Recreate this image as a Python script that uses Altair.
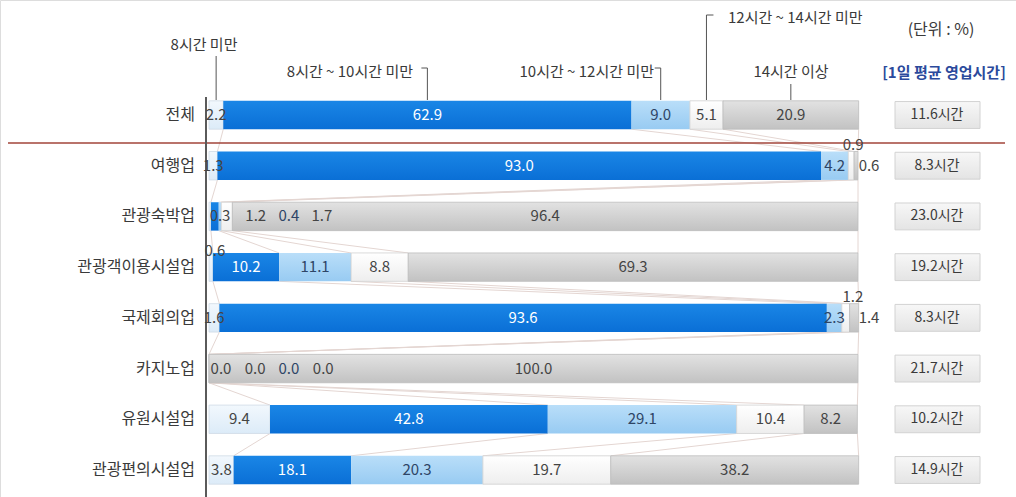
import altair as alt
import pandas as pd

# ---------------- data ----------------
categories = ["전체", "여행업", "관광숙박업", "관광객이용시설업",
              "국제회의업", "카지노업", "유원시설업", "관광편의시설업"]
series_names = ["8시간 미만", "8시간 ~ 10시간 미만", "10시간 ~ 12시간 미만",
                "12시간 ~ 14시간 미만", "14시간 이상"]
under_8 = [2.2, 1.3, 0.3, 0.6, 1.6, 0.0, 9.4, 3.8]
h8_10 = [62.9, 93.0, 1.2, 10.2, 93.6, 0.0, 42.8, 18.1]
h10_12 = [9.0, 4.2, 0.4, 11.1, 2.3, 0.0, 29.1, 20.3]
h12_14 = [5.1, 0.9, 1.7, 8.8, 1.2, 0.0, 10.4, 19.7]
over_14 = [20.9, 0.6, 96.4, 69.3, 1.4, 100.0, 8.2, 38.2]
avg_hours = [11.6, 8.3, 23.0, 19.2, 8.3, 21.7, 10.2, 14.9]

series_values = [under_8, h8_10, h10_12, h12_14, over_14]

# ---------------- styling ----------------
FONT = "Noto Sans CJK KR"
HALF = 0.28      # half bar thickness in row units
BOX_HALF = 0.265
xs = alt.Scale(domain=[0, 100], range=[209, 858], nice=False, zero=False)
ys = alt.Scale(domain=[0, 7], range=[115, 470], nice=False, zero=False)

fills = [
    ["#f2f8fd", "#dcebf8"],
    ["#1a86e6", "#0a6fd6"],
    ["#b9def9", "#98cbf2"],
    ["#ffffff", "#eeeeee"],
    ["#e2e2e2", "#c2c2c2"],
]
strokes = ["#cfdbe6", None, None, "#d0d0d0", "#bdbdbd"]
text_dark = ["#444444", "#444444", "#2e4566", "#444444", "#444444"]

# label nudges for tiny segments (percent units, row units)
nudges = {
    (1, 3): (0.3, -0.40), (1, 4): (2.0, 0.0),
    (2, 0): (1.55, 0.0), (2, 1): (6.3, 0.0), (2, 2): (10.6, 0.0), (2, 3): (14.65, 0.0),
    (3, 0): (0.6, -0.31),
    (4, 3): (1.1, -0.42), (4, 4): (2.3, 0.0),
    (5, 0): (1.85, 0.0), (5, 1): (7.1, 0.0), (5, 2): (12.3, 0.0), (5, 3): (17.6, 0.0),
}

rows = []
cum = []
for i, cat in enumerate(categories):
    start = 0.0
    bounds = []
    for s, vals in enumerate(series_values):
        v = vals[i]
        nx, ny = nudges.get((i, s), (0.0, 0.0))
        color = "white" if (s == 1 and v >= 5) else text_dark[s]
        rows.append(dict(cat=cat, row=i, series=s, value=v,
                         x0=start, x1=start + v,
                         lx=start + v / 2 + nx, ly=i + ny,
                         yt=i - HALF, yb=i + HALF,
                         label=f"{v:.1f}", tcolor=color))
        start += v
        bounds.append(start)
    cum.append(bounds)
df = pd.DataFrame(rows)

conn = []
for i in range(len(categories) - 1):
    for k in range(5):
        conn.append(dict(xa=cum[i][k], ya=i + HALF, xb=cum[i + 1][k], yb=i + 1 - HALF))
conn_df = pd.DataFrame(conn)

cat_df = pd.DataFrame(dict(cat=categories, row=list(range(len(categories))),
                           avg=[f"{h:.1f}시간" for h in avg_hours]))
cat_df["bt"] = cat_df["row"] - BOX_HALF
cat_df["bb"] = cat_df["row"] + BOX_HALF

# ---------------- layers ----------------
connectors = alt.Chart(conn_df).mark_rule(color="#e4d6d2", strokeWidth=1).encode(
    x=alt.X("xa:Q", scale=xs, axis=None), y=alt.Y("ya:Q", scale=ys, axis=None),
    x2="xb:Q", y2="yb:Q")

bar_layers = []
for s in range(5):
    grad = alt.LinearGradient(gradient="linear", x1=0, x2=0, y1=0, y2=1,
                              stops=[alt.GradientStop(color=fills[s][0], offset=0),
                                     alt.GradientStop(color=fills[s][1], offset=1)])
    kw = dict(color=grad)
    if strokes[s]:
        kw.update(stroke=strokes[s], strokeWidth=0.8)
    bar_layers.append(
        alt.Chart(df).transform_filter(alt.datum.series == s).mark_bar(**kw).encode(
            x=alt.X("x0:Q", scale=xs, axis=None), x2="x1:Q",
            y=alt.Y("yt:Q", scale=ys, axis=None), y2="yb:Q"))

labels = alt.Chart(df).mark_text(font=FONT, fontSize=15, baseline="middle").encode(
    x=alt.X("lx:Q", scale=xs, axis=None), y=alt.Y("ly:Q", scale=ys, axis=None),
    text="label:N", color=alt.Color("tcolor:N", scale=None))

cat_labels = alt.Chart(cat_df).mark_text(font=FONT, fontSize=16, align="right",
                                          baseline="middle", color="#3a3a3a").encode(
    x=alt.value(195), y=alt.Y("row:Q", scale=ys, axis=None), text="cat:N")

box_grad = alt.LinearGradient(gradient="linear", x1=0, x2=0, y1=0, y2=1,
                              stops=[alt.GradientStop(color="#f7f7f7", offset=0),
                                     alt.GradientStop(color="#e4e4e4", offset=1)])
boxes = alt.Chart(cat_df).mark_rect(color=box_grad, stroke="#d2d2d2", strokeWidth=1).encode(
    x=alt.value(895), x2=alt.value(980),
    y=alt.Y("bt:Q", scale=ys, axis=None), y2="bb:Q")
box_text = alt.Chart(cat_df).mark_text(font=FONT, fontSize=14, baseline="middle",
                                        color="#3a3a3a").encode(
    x=alt.value(937), y=alt.Y("row:Q", scale=ys, axis=None), text="avg:N")

# header brackets anchored on the first row's segment centres
top = df[df.row == 0].copy()
br_top = {0: 56, 1: 68, 2: 68, 3: 15, 4: 84}
vticks = []
for s, ytop in br_top.items():
    vticks.append(
        alt.Chart(top).transform_filter(alt.datum.series == s)
        .mark_rule(color="#555555", strokeWidth=1).encode(
            x=alt.X("lx:Q", scale=xs, axis=None),
            y=alt.value(ytop), y2=alt.value(100)))
hticks = []
for s, off in [(1, -6), (2, -6), (3, 7)]:
    hticks.append(
        alt.Chart(top).transform_filter(alt.datum.series == s)
        .mark_rule(color="#555555", strokeWidth=1, x2Offset=off).encode(
            x=alt.X("lx:Q", scale=xs, axis=None), x2="lx:Q",
            y=alt.value(br_top[s])))

head_df = pd.DataFrame(dict(
    t=series_names,
    px=[204, 413, 654, 728, 791], py=[45, 72, 72, 18, 72],
    al=["center", "right", "right", "left", "center"]))
head_layers = []
for _, r in head_df.iterrows():
    head_layers.append(alt.Chart(pd.DataFrame({"t": [r.t]})).mark_text(
        font=FONT, fontSize=15, align=r.al, baseline="middle", color="#3a3a3a").encode(
        x=alt.value(int(r.px)), y=alt.value(int(r.py)), text="t:N"))

unit = alt.Chart(pd.DataFrame({"t": ["(단위 : %)"]})).mark_text(
    font=FONT, fontSize=16, align="center", baseline="middle", color="#3a3a3a").encode(
    x=alt.value(941), y=alt.value(30), text="t:N")
avg_title = alt.Chart(pd.DataFrame({"t": ["[1일 평균 영업시간]"]})).mark_text(
    font=FONT, fontSize=15, fontWeight="bold", align="center", baseline="middle",
    color="#2b4a9c").encode(x=alt.value(944), y=alt.value(73), text="t:N")

one = pd.DataFrame({"k": [0]})
red_line = alt.Chart(one).mark_rule(color="#a2443a", strokeWidth=1.5).encode(
    x=alt.value(8), x2=alt.value(1005), y=alt.value(143))
axis_line = alt.Chart(one).mark_rule(color="#5a5a5a", strokeWidth=2).encode(
    x=alt.value(206), y=alt.value(97), y2=alt.value(497))

chart = alt.layer(
    connectors, *bar_layers, boxes, box_text, red_line, axis_line, labels,
    cat_labels, *vticks, *hticks, *head_layers, unit, avg_title
).properties(
    width=1016, height=497, padding=0,
    autosize=alt.AutoSizeParams(type="none")
).configure_view(stroke=None).configure(background="white")

chart.save("out.html", embed_options={"renderer": "svg", "actions": False})
